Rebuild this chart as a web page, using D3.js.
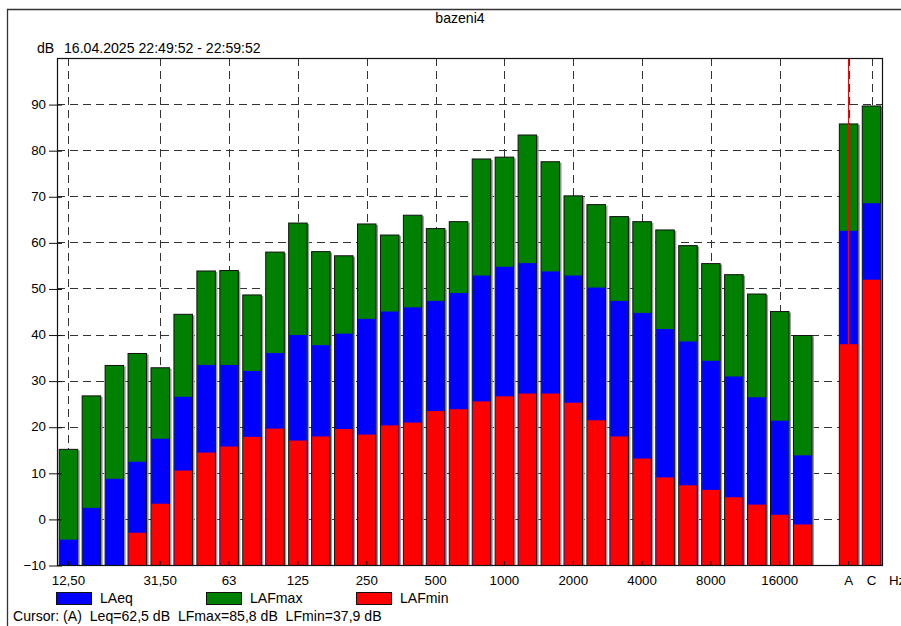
<!DOCTYPE html>
<html>
<head>
<meta charset="utf-8">
<script src="https://cdn.jsdelivr.net/npm/d3@7"></script>
<style>
  html, body { margin: 0; padding: 0; background: #fff; overflow: hidden; }
  svg { display: block; font-family: "Liberation Sans", Arial, sans-serif; }
  text { white-space: pre; }
</style>
</head>
<body>
<svg id="chart" width="901" height="626"></svg>
<script>
// ---- data ----
const bands = ["12,50","16","20","25","31,50","40","50","63","80","100","125","160","200","250","315","400","500","630","800","1000","1250","1600","2000","2500","3150","4000","5000","6300","8000","10000","12500","16000","20000","gap","A","C"];
const tickLabels = ["12,50","31,50","63","125","250","500","1000","2000","4000","8000","16000","A","C"];
const yTicks = [-10,0,10,20,30,40,50,60,70,80,90];
const LAFmax = [15.2,26.8,33.4,36.0,32.9,44.5,53.9,54.0,48.7,58.0,64.3,58.1,57.2,64.1,61.7,66.0,63.1,64.6,78.2,78.6,83.4,77.6,70.2,68.3,65.7,64.6,62.8,59.4,55.5,53.1,48.9,45.1,39.9,null,85.8,89.7];
const LAeq   = [-4.5,2.4,8.7,12.4,17.4,26.5,33.4,33.4,32.1,36.0,39.9,37.7,40.2,43.4,45.0,45.9,47.3,49.0,52.8,54.7,55.5,53.7,52.8,50.2,47.3,44.7,41.2,38.5,34.3,30.9,26.4,21.3,13.8,null,62.5,68.5];
const LAFmin = [-10,-10,-10,-3.0,3.3,10.5,14.4,15.7,17.8,19.6,17.0,17.9,19.5,18.3,20.3,20.9,23.4,23.8,25.5,26.6,27.2,27.2,25.2,21.4,17.9,13.1,9.0,7.3,6.3,4.7,3.1,0.9,-1.2,null,37.9,51.9];
const legendItems = [{name:"LAeq", color:"#0000ff"},{name:"LAFmax", color:"#008000"},{name:"LAFmin", color:"#ff0000"}];
const title = "bazeni4";
const subtitle = "16.04.2025 22:49:52 - 22:59:52";
const cursorText = "Cursor: (A)  Leq=62,5 dB  LFmax=85,8 dB  LFmin=37,9 dB";
const cursorBand = "A";

// ---- layout ----
const L = 57, R = 883, T = 58, B = 565;
const FS = "13.3px";
const FS2 = "14.1px";
const svg = d3.select("#chart");

const x = d3.scaleBand().domain(bands).range([L, R]).paddingInner(0.15).paddingOuter(0.075);
const y = d3.scaleLinear().domain([-10, 100]).range([B, T]);

// outer frame
svg.append("path").attr("d", "M7.5,626 L7.5,9.5 L901,9.5").attr("fill","none").attr("stroke","#333").attr("stroke-width",1.3);

// title
svg.append("text").attr("x", 460).attr("y", 23).attr("text-anchor","middle").attr("font-size", FS2).text(title);
svg.append("text").attr("x", 37).attr("y", 53).attr("font-size", FS2).text("dB");
svg.append("text").attr("x", 64).attr("y", 53).attr("font-size", FS2).text(subtitle);

// grid
const grid = svg.append("g");
grid.selectAll("line.h").data(yTicks.filter(d => d > -10)).enter().append("line")
  .attr("x1", L).attr("x2", R).attr("y1", d => Math.round(y(d)) + 0.5).attr("y2", d => Math.round(y(d)) + 0.5)
  .attr("stroke", "#333").attr("stroke-dasharray", "8,5");
grid.selectAll("line.v").data(tickLabels).enter().append("line")
  .attr("x1", d => Math.round(x(d) + x.bandwidth()/2) + 0.5).attr("x2", d => Math.round(x(d) + x.bandwidth()/2) + 0.5)
  .attr("y1", T).attr("y2", B)
  .attr("stroke", "#333").attr("stroke-dasharray", "8,5");

// bars
const data = bands.map((b, i) => ({band: b, max: LAFmax[i], eq: LAeq[i], min: LAFmin[i]})).filter(d => d.max !== null);
const bw = x.bandwidth();
const barG = svg.append("g");
// shadow
barG.selectAll("rect.s").data(data).enter().append("rect")
  .attr("x", d => x(d.band) + 1.5).attr("y", d => y(d.max) + 1.5)
  .attr("width", bw).attr("height", d => B - y(d.max) - 1.5)
  .attr("fill", "#999");
barG.selectAll("rect.g").data(data).enter().append("rect")
  .attr("x", d => x(d.band) + 0.5).attr("y", d => y(d.max) + 0.5)
  .attr("width", bw - 1).attr("height", d => B - y(d.max) - 0.5)
  .attr("fill", legendItems[1].color).attr("stroke", "#111").attr("stroke-width", 1);
barG.selectAll("rect.b").data(data).enter().append("rect")
  .attr("x", d => x(d.band) + 1).attr("y", d => y(Math.max(d.eq, -10)))
  .attr("width", bw - 2).attr("height", d => B - y(Math.max(d.eq, -10)))
  .attr("fill", legendItems[0].color);
barG.selectAll("rect.r").data(data).enter().append("rect")
  .attr("x", d => x(d.band) + 1).attr("y", d => y(Math.max(d.min, -10)))
  .attr("width", bw - 2).attr("height", d => B - y(Math.max(d.min, -10)))
  .attr("fill", legendItems[2].color);

// cursor line
const cx = Math.round(x(cursorBand) + bw/2) - 0.5;
svg.append("line").attr("x1", cx).attr("x2", cx).attr("y1", T).attr("y2", B).attr("stroke", "#ff0000").attr("stroke-width", 1);

// plot frame
svg.append("rect").attr("x", L + 0.5).attr("y", T + 0.5).attr("width", R - L - 1).attr("height", B - T)
  .attr("fill", "none").attr("stroke", "#111").attr("stroke-width", 1.2);

// y axis
const yAxis = d3.axisLeft(y).tickValues(yTicks).tickSize(0).tickPadding(0).tickFormat(d3.format("d"));
const yg = svg.append("g").attr("transform", `translate(${L},0)`).call(yAxis);
yg.select(".domain").remove();
yg.selectAll(".tick text").attr("x", -11).attr("font-size", FS).attr("font-family", "Liberation Sans, Arial, sans-serif").attr("fill", "#000");
yg.selectAll(".tick").append("line").attr("x1", -8).attr("x2", 5).attr("y1", 0.5).attr("y2", 0.5).attr("stroke", "#111");

// x axis
const xAxis = d3.axisBottom(x).tickValues(tickLabels).tickSize(0).tickPadding(0);
const xg = svg.append("g").attr("transform", `translate(0,${B})`).call(xAxis);
xg.select(".domain").remove();
xg.selectAll(".tick text").attr("y", 20).attr("dy", 0).attr("font-size", FS).attr("font-family", "Liberation Sans, Arial, sans-serif").attr("fill", "#000");
xg.selectAll(".tick").append("line").attr("y1", -4).attr("y2", 0).attr("stroke", "#111");
svg.append("text").attr("x", 889).attr("y", B + 20).attr("font-size", FS).text("Hz");

// legend
const lg = svg.selectAll("g.legend").data(legendItems).enter().append("g")
  .attr("transform", (d, i) => `translate(${56 + i * 150},592)`);
lg.append("rect").attr("x", 0.5).attr("y", 0.5).attr("width", 35).attr("height", 12)
  .attr("fill", d => d.color).attr("stroke", "#111");
lg.append("text").attr("x", 44).attr("y", 11).attr("font-size", FS2).text(d => d.name);

// cursor text
svg.append("text").attr("x", 13).attr("y", 621).attr("font-size", FS2).text(cursorText);
</script>
</body>
</html>
